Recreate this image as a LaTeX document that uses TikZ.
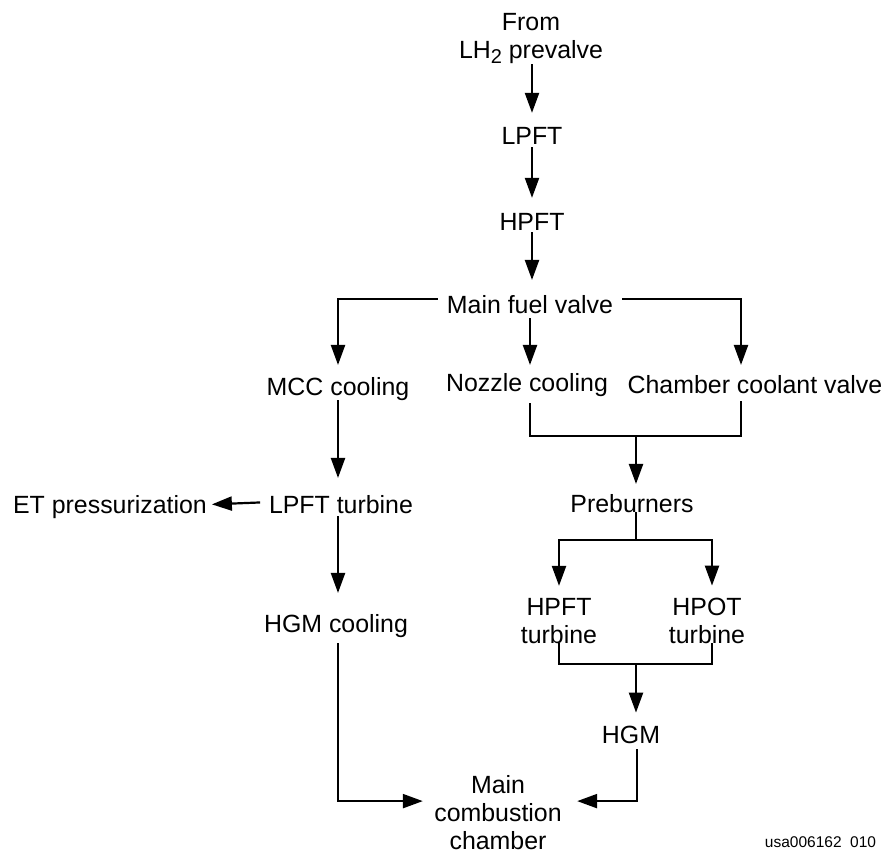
\documentclass[tikz,border=0pt]{standalone}
\usepackage{fontspec}
\setmainfont{Liberation Sans}
\usetikzlibrary{arrows.meta,calc}
\newcommand\stk[1]{\vtop{\baselineskip=28pt\lineskiplimit=-100pt\halign{\hfil##\hfil\cr#1\crcr}}}
\begin{document}
\begin{tikzpicture}[x=1pt,y=-1pt,line width=2.2pt,
  every node/.style={inner sep=0pt,outer sep=0pt,anchor=base,font=\fontsize{24.9pt}{28pt}\selectfont},
  arr/.style={-{Triangle[length=20pt,width=14pt]}},
  small/.style={font=\fontsize{15.5pt}{18pt}\selectfont}]
\useasboundingbox (0,0) rectangle (885,856);
% nodes
\node (from) at (531,31) {\stk{From\cr LH\raisebox{-5pt}{\fontsize{20pt}{22pt}\selectfont 2} prevalve}};
\node (lpft) at (532,144) {LPFT};
\node (hpft) at (532,230) {HPFT};
\node (mfv) at (530,313) {Main fuel valve};
\node (mcc) at (338,395) {MCC cooling};
\node (nozzle) at (527,391) {Nozzle cooling};
\node (ccv) at (755,393) {Chamber coolant valve};
\node (preb) at (632,512) {Preburners};
\node (lpftt) at (341,513) {LPFT turbine};
\node (et) at (110,513) {ET pressurization};
\node (hgmc) at (336,632) {HGM cooling};
\node (hpftt) at (559,615) {\stk{HPFT\cr turbine}};
\node (hpott) at (707,615) {\stk{HPOT\cr turbine}};
\node (hgm) at (631,743) {HGM};
\node (mcch) at (498,793) {\stk{Main\cr combustion\cr chamber}};
\node[small] (id) at (820.5,847) {usa006162\hspace{8.5pt}010};
% helper coordinates
\coordinate (merge) at (636,436);
\coordinate (split) at (636,540);
\coordinate (tmerge) at (636,664);
% connectors
\draw[arr,shorten >=14pt] (from.south -| lpft) -- (lpft.north);
\draw[arr,shorten <=3pt,shorten >=15pt] (lpft.south) -- (hpft.north);
\draw[arr,shorten <=2pt,shorten >=15pt] (hpft.south) -- (hpft.south |- mfv.north);
\draw[arr,shorten >=12pt] ([xshift=-9pt,yshift=5pt]mfv.west) -| (mcc.north);
\draw[arr,shorten >=10pt] ([xshift=9pt,yshift=5pt]mfv.east) -| ([xshift=-14pt]ccv.north);
\draw[arr,shorten <=5pt,shorten >=8pt] (mfv.south) -- (mfv.south |- nozzle.north);
\draw ([xshift=3pt,yshift=-7pt]nozzle.south) |- (merge) -| ([xshift=-14pt,yshift=-8pt]ccv.south);
\draw[arr,shorten >=10pt] (merge) -- (merge |- preb.north);
\draw (split |- preb.south) -- (split);
\draw[arr,shorten >=12pt] (split) -| (hpftt.north);
\draw[arr,shorten >=12pt] (split) -| ([xshift=5pt]hpott.north);
\draw (hpftt.south) |- (tmerge) -| ([xshift=5pt]hpott.south);
\draw[arr,shorten >=13pt] (tmerge) -- (tmerge |- hgm.north);
\draw[arr,shorten >=17pt] (mcc.south) -- (mcc.south |- lpftt.north);
\draw[arr,shorten <=3pt,shorten >=21pt] ([xshift=-3pt]lpftt.south) -- ([xshift=-3pt]lpftt.south |- hgmc.north);
\draw[arr,shorten <=9pt,shorten >=5pt] ([yshift=2pt]lpftt.west) -- ([yshift=2pt]et.east);
\draw[arr,shorten >=11.5pt] ([xshift=2pt,yshift=-6pt]hgmc.south) |- ([yshift=11pt]mcch.west);
\draw[arr,shorten >=15.5pt] ([xshift=6pt,yshift=-6pt]hgm.south) |- ([yshift=11pt]mcch.east);
\end{tikzpicture}
\end{document}
